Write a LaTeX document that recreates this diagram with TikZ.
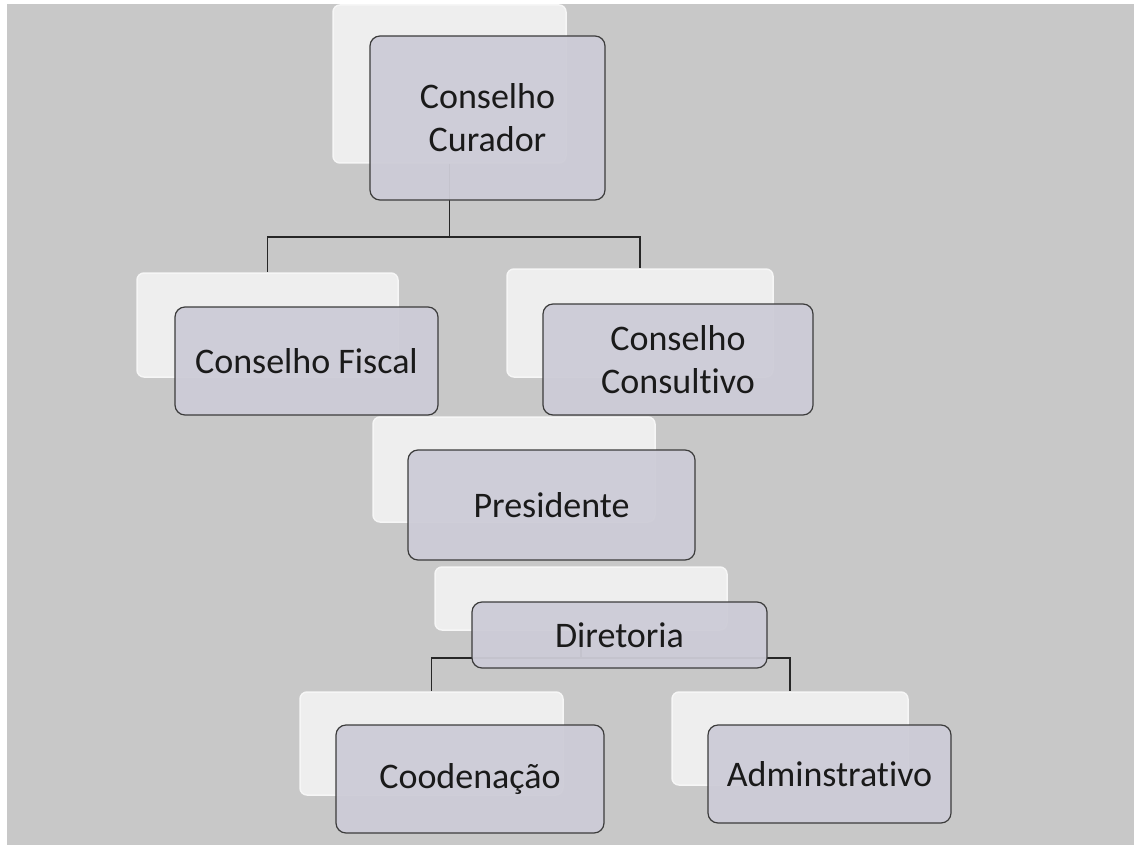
\documentclass[tikz,border=0pt]{standalone}
\usepackage{fontspec}
\setmainfont[Ligatures={NoCommon}]{Carlito}
\definecolor{bg}{HTML}{C8C8C8}
\definecolor{backfill}{HTML}{EEEEEE}
\definecolor{backedge}{HTML}{F6F6F6}
\definecolor{backshade}{HTML}{DADAE3}
\definecolor{frontfill}{HTML}{CDCCD7}
\definecolor{frontedge}{HTML}{3C3C3C}
\definecolor{txt}{HTML}{1A1A1A}
\begin{document}
\begin{tikzpicture}[x=1pt,y=-1pt,
  backbox/.style={rectangle,rounded corners=7pt,fill=backfill,draw=backedge,line width=1.5pt,inner sep=0pt},
  frontbox/.style={rectangle,rounded corners=10pt,fill=frontfill,fill opacity=0.95,draw=frontedge,draw opacity=1,line width=1.2pt,inner sep=0pt,text opacity=1,text=txt,align=center,font=\fontsize{36}{43}\selectfont},
  conn/.style={draw=black!85,line width=1.4pt}]
% background
\fill[white] (0,0) rectangle (1134,845);
\fill[bg] (7,4) rectangle (1134,845);
\useasboundingbox (0,0) rectangle (1134,845);
% back boxes
\node[backbox,minimum width=233pt,minimum height=158pt] (ccb) at (449.5,84) {};
\node[backbox,minimum width=261pt,minimum height=104pt] (fisb) at (267.5,325) {};
\node[backbox,minimum width=266pt,minimum height=108pt] (conb) at (640,323) {};
\node[backbox,minimum width=282pt,minimum height=105pt] (preb) at (514,469.5) {};
\node[backbox,minimum width=292pt,minimum height=63pt] (dirb) at (581,598.5) {};
\node[backbox,minimum width=263pt,minimum height=103pt] (coob) at (431.5,743.5) {};
\node[backbox,minimum width=236pt,minimum height=93pt] (admb) at (790,738.5) {};
% junctions
\coordinate (j1) at (449.5,237);
\coordinate (j2) at (581,658);
% connectors
\draw[conn] (ccb.south) -- (j1) -| (fisb.north);
\draw[conn] (j1) -| (conb.north);
\draw[conn] (dirb.south) -- (j2) -| (coob.north);
\draw[conn] (j2) -| (admb.north);
% front boxes
\node[frontbox,minimum width=235pt,minimum height=164pt] (cc) at (487.5,118) {Conselho\\Curador};
\node[frontbox,minimum width=263pt,minimum height=108pt] (fis) at (306.5,361) {Conselho Fiscal};
\node[frontbox,minimum width=270pt,minimum height=111pt] (con) at (678,359.5) {Conselho\\Consultivo};
\node[frontbox,minimum width=287pt,minimum height=110pt] (pre) at (551.5,505) {Presidente};
\node[frontbox,minimum width=295pt,minimum height=66pt] (dir) at (619.5,635) {Diretoria};
\node[frontbox,minimum width=268pt,minimum height=108pt] (coo) at (470,779) {Coodenação};
\node[frontbox,minimum width=243pt,minimum height=98pt] (adm) at (829.5,774) {Adminstrativo};
\end{tikzpicture}
\end{document}
